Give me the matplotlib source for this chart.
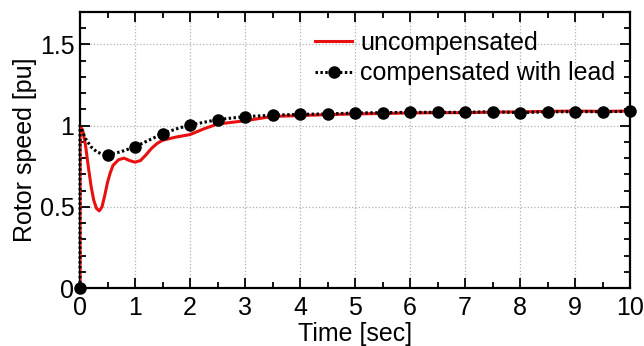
import matplotlib
matplotlib.use("Agg")
import matplotlib.pyplot as plt
from matplotlib.ticker import MultipleLocator, FixedLocator, FixedFormatter

plt.rcParams['font.family'] = ['Liberation Sans', 'DejaVu Sans']

# Rotor speed response without compensation
t_unc = [0, 0, 0.05, 0.1, 0.15, 0.2, 0.25, 0.3, 0.35, 0.4, 0.45, 0.5, 0.55, 0.6,
         0.7, 0.8, 0.9, 1.0, 1.1, 1.2, 1.3, 1.4, 1.5, 1.75, 2.0, 2.25, 2.5,
         2.75, 3.0, 3.5, 4.0, 4.5, 5.0, 5.5, 6.0, 6.5, 7.0, 7.5, 8.0, 8.5,
         9.0, 9.5, 10.0]
w_unc = [0.0, 1.0, 0.97, 0.88, 0.75, 0.63, 0.54, 0.49, 0.475, 0.50, 0.57, 0.65,
         0.71, 0.755, 0.79, 0.80, 0.785, 0.775, 0.785, 0.82, 0.86, 0.89, 0.91,
         0.93, 0.945, 0.98, 1.01, 1.02, 1.03, 1.057, 1.062, 1.068, 1.072, 1.075,
         1.078, 1.08, 1.08, 1.083, 1.085, 1.088, 1.09, 1.088, 1.09]

# Rotor speed response with lead compensator
t_comp = [0, 0, 0.1, 0.2, 0.3, 0.4, 0.5, 0.75, 1.0, 1.25, 1.5, 1.75, 2.0, 2.5,
          3.0, 3.5, 4.0, 4.5, 5.0, 5.5, 6.0, 6.5, 7.0, 7.5, 8.0, 8.5, 9.0,
          9.5, 10.0]
w_comp = [0.0, 1.0, 0.92, 0.87, 0.84, 0.825, 0.82, 0.84, 0.87, 0.91, 0.95,
          0.98, 1.004, 1.037, 1.056, 1.064, 1.07, 1.072, 1.078, 1.08, 1.082,
          1.082, 1.082, 1.086, 1.08, 1.085, 1.086, 1.086, 1.088]
comp_marker_times = [0, 0.5, 1.0, 1.5, 2.0, 2.5, 3.0, 3.5, 4.0, 4.5, 5.0, 5.5,
                     6.0, 6.5, 7.0, 7.5, 8.0, 8.5, 9.0, 9.5, 10.0]

y_ticks = [0, 0.5, 1, 1.5]
y_tick_labels = ["0", "0.5", "1", "1.5"]
x_ticks = list(range(0, 11))

fig = plt.figure(figsize=(6.44, 3.46), dpi=100)
ax = fig.add_axes([80 / 644, 1 - 288 / 346, 550 / 644, 276 / 346])

ax.plot(t_unc, w_unc, color='#e8100f', lw=2.2, label='uncompensated', zorder=3)

mark_idx = []
for mt in comp_marker_times:
    for i, tv in enumerate(t_comp):
        if abs(tv - mt) < 1e-9:
            mark_idx.append(i)
            break
ax.plot(t_comp, w_comp, color='black', lw=2.2, ls=(0, (0.8, 0.8)),
        marker='o', ms=8, markevery=mark_idx, label='compensated with lead',
        zorder=4, clip_on=False)

ax.set_xlim(0, 10)
ax.set_ylim(0, 1.7)
ax.xaxis.set_major_locator(FixedLocator(x_ticks))
ax.xaxis.set_minor_locator(MultipleLocator(0.5))
ax.yaxis.set_major_locator(FixedLocator(y_ticks))
ax.yaxis.set_major_formatter(FixedFormatter(y_tick_labels))
ax.yaxis.set_minor_locator(MultipleLocator(0.1))

ax.tick_params(which='both', direction='in', top=True, right=True,
               labelsize=18, width=1.3)
ax.tick_params(axis='x', pad=6)
ax.tick_params(axis='y', pad=4)
ax.tick_params(which='major', length=7)
ax.tick_params(which='minor', length=4)
for s in ax.spines.values():
    s.set_linewidth(1.6)

ax.grid(True, which='major', color='#b0b0b0', ls=':', lw=0.9)

ax.set_xlabel('Time [sec]', fontsize=18, labelpad=1)
ax.set_ylabel('Rotor speed [pu]', fontsize=18, labelpad=2)

ax.legend(loc='upper right', fontsize=18, frameon=False, handlelength=1.5,
          handletextpad=0.3, borderaxespad=0.2, labelspacing=0.25,
          bbox_to_anchor=(1.0, 0.985))

fig.savefig('out.png', dpi=100)
